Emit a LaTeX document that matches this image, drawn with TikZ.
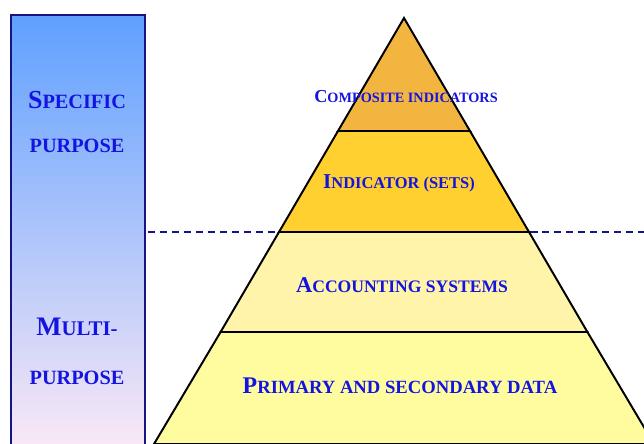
\documentclass[tikz,border=0pt]{standalone}
\usepackage{fontspec}
\setmainfont{Liberation Serif}
\usepackage{xcolor}
\usetikzlibrary{calc}

\definecolor{barTop}{RGB}{95,160,255}
\definecolor{barMid}{RGB}{142,200,255}
\definecolor{barBottom}{RGB}{250,232,246}
\definecolor{navy}{RGB}{20,20,130}
\definecolor{labelBlue}{RGB}{20,20,225}
\definecolor{tierOne}{RGB}{242,181,63}
\definecolor{tierTwo}{RGB}{255,208,48}
\definecolor{tierThree}{RGB}{255,244,170}
\definecolor{tierFour}{RGB}{255,252,160}

% fake small caps: big first letter, smaller capitals after it
\newcommand{\fakesc}[3]{{\fontsize{#1}{#1}\selectfont#2}{\fontsize{0.78\dimexpr#1\relax}{#1}\selectfont#3}}

\begin{document}
\begin{tikzpicture}[x=0.025cm, y=-0.025cm,
	every node/.style={text=labelBlue, font=\bfseries, inner sep=0pt},
	tier/.style={draw=black, line width=1.4pt, line join=miter}]
	\clip (0,0) rectangle (644,444);
	\fill[white] (0,0) rectangle (644,444);

	% left bar
	\shade[top color=barTop, middle color=barMid, bottom color=barBottom, shading angle=0]
		(11,15) rectangle (145,446);
	\draw[navy, line width=1.1pt] (11,460) -- (11,15) -- (145,15) -- (145,460);

	\node(spec) at (77,100){\fakesc{18.5pt}{S}{PECIFIC}};
	\node(specb) at (77,146){\fakesc{18.5pt}{}{PURPOSE}};
	\node(multi) at (77,327){\fakesc{19pt}{M}{ULTI-}};
	\node(multib) at (77,378){\fakesc{18.5pt}{}{PURPOSE}};

	% split between specific and multi-purpose
	\draw[navy, line width=1pt, dash pattern=on 5pt off 3.5pt] (148,232) -- (644,232);

	% pyramid tiers
	\filldraw[tier, fill=tierFour] (220.6,332) -- (587.4,332) -- (654,444) -- (154,444) -- cycle;
	\filldraw[tier, fill=tierThree] (279,232) -- (529,232) -- (587.4,332) -- (220.6,332) -- cycle;
	\filldraw[tier, fill=tierTwo] (338,131) -- (470,131) -- (529,232) -- (279,232) -- cycle;
	\filldraw[tier, fill=tierOne] (404,18) -- (470,131) -- (338,131) -- cycle;

	\node(comp) at (406,97){\fakesc{13pt}{C}{OMPOSITE INDICATORS}};
	\node(ind) at (399,183){\fakesc{15pt}{I}{NDICATOR (SETS)}};
	\node(acc) at (402,285){\fakesc{16pt}{A}{CCOUNTING SYSTEMS}};
	\node(prim) at (400,386){\fakesc{17pt}{P}{RIMARY AND SECONDARY DATA}};
\end{tikzpicture}
\end{document}
